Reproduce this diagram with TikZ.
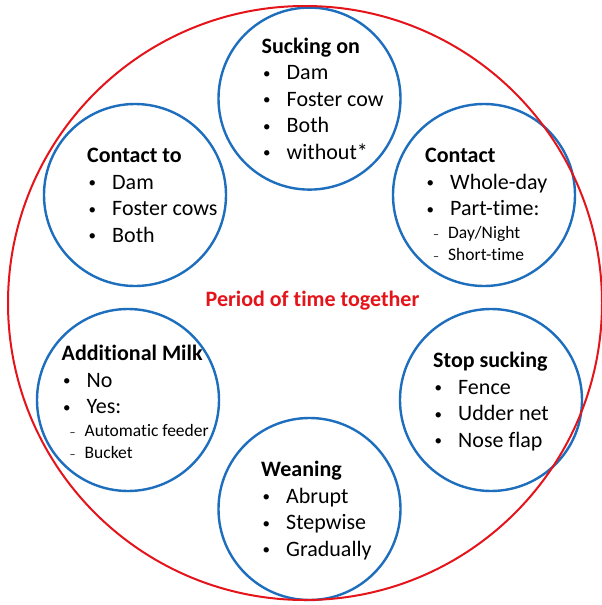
\documentclass[tikz,border=0pt]{standalone}
\usepackage{fontspec}
\setmainfont[Ligatures=NoCommon]{Carlito}
\usepackage{xcolor}
\usepackage{tikz}
\usetikzlibrary{calc}
\definecolor{ringred}{RGB}{228,20,26}
\definecolor{bubbleblue}{RGB}{30,110,190}
\newcommand{\mainsize}{\fontsize{22}{26.5}\selectfont}
\newcommand{\subsize}{\fontsize{17.5}{21.5}\selectfont}
\newcommand{\bul}{\makebox[25pt][l]{\hspace{1.5pt}\raisebox{1.5pt}{\fontsize{15}{15}\selectfont\textbullet}}}
\newcommand{\dsh}{\subsize\hspace{8pt}\makebox[15pt][l]{\fontsize{12}{12}\selectfont --}}

\begin{document}
\begin{tikzpicture}[x=1pt,y=-1pt,
  bubble/.style={circle,draw=bubbleblue,line width=2.4pt,minimum size=182pt,inner sep=0pt},
  list/.style={anchor=base west,inner sep=0pt,font=\mainsize}]
\fill[white] (0,0) rectangle (602,605);
\useasboundingbox (0,0) rectangle (602,605);
\node[bubble] (suck) at (309.5,98.6) {};
\node[bubble] (contto) at (135,195) {};
\node[bubble] (cont) at (484,195) {};
\node[bubble] (milk) at (128,400) {};
\node[bubble] (stop) at (491,400) {};
\node[bubble] (wean) at (309.5,509) {};
\draw[ringred,line width=2pt] (305,303) circle[radius=297];
\node[font=\mainsize\bfseries,text=ringred] (period) at (312.5,301) {Period of time together};
\node[list] (sucktxt) at ($(suck)+(-48,-45.5)$) {\begin{tabular}[t]{@{}l@{}}
\textbf{Sucking on}\\
\bul Dam\\
\bul Foster cow\\
\bul Both\\
\bul without*
\end{tabular}};
\node[list] (conttotxt) at ($(contto)+(-48,-32.5)$) {\begin{tabular}[t]{@{}l@{}}
\textbf{Contact to}\\
\bul Dam\\
\bul Foster cows\\
\bul Both
\end{tabular}};
\node[list] (conttxt) at ($(cont)+(-59,-32.5)$) {\begin{tabular}[t]{@{}l@{}}
\textbf{Contact}\\
\bul Whole-day\\
\bul Part-time:\\[-3.5pt]
\dsh Day/Night\\[-5pt]
\dsh Short-time
\end{tabular}};
\node[list] (milktxt) at ($(milk)+(-66.5,-39.5)$) {\begin{tabular}[t]{@{}l@{}}
\textbf{Additional Milk}\\
\bul No\\
\bul Yes:\\[-3.5pt]
\dsh Automatic feeder\\[-5pt]
\dsh Bucket
\end{tabular}};
\node[list] (stoptxt) at ($(stop)+(-58,-32.5)$) {\begin{tabular}[t]{@{}l@{}}
\textbf{Stop sucking}\\
\bul Fence\\
\bul Udder net\\
\bul Nose flap
\end{tabular}};
\node[list] (weantxt) at ($(wean)+(-48.5,-32.5)$) {\begin{tabular}[t]{@{}l@{}}
\textbf{Weaning}\\
\bul Abrupt\\
\bul Stepwise\\
\bul Gradually
\end{tabular}};
\end{tikzpicture}
\end{document}
